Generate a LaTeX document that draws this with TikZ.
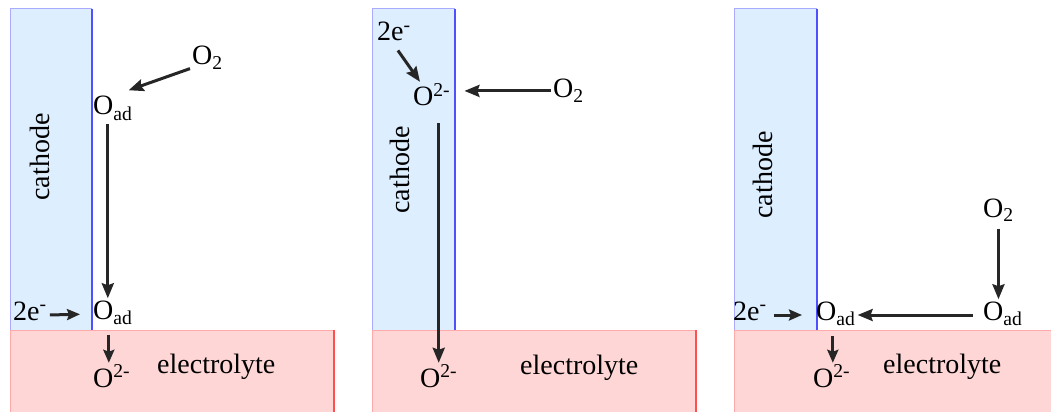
\documentclass[tikz,border=0pt]{standalone}
\usepackage{fontspec}
\setmainfont{Liberation Serif}
\usetikzlibrary{arrows.meta}
\definecolor{cathfill}{RGB}{221,238,255}
\definecolor{cathedge}{RGB}{170,170,255}
\definecolor{cathside}{RGB}{80,80,255}
\definecolor{elfill}{RGB}{255,214,214}
\definecolor{eledge}{RGB}{255,170,170}
\definecolor{elside}{RGB}{255,80,80}
\begin{document}
\begin{tikzpicture}[x=1pt,y=-1pt,
  txt/.style={inner sep=2pt, font=\fontsize{28}{30}\selectfont},
  lbl/.style={txt, anchor=base west},
  vlbl/.style={txt, rotate=90, anchor=center},
  arr/.style={line width=3pt, color=black!85, -{Stealth[length=15pt,width=12pt,inset=2pt]}},
  sarr/.style={line width=3pt, color=black!85, -{Stealth[length=13pt,width=11pt,inset=2pt]}},
  cathbody/.style={fill=cathfill},
  cathrim/.style={draw=cathedge, line width=1pt},
  cathface/.style={draw=cathside, line width=1.6pt},
  elbody/.style={fill=elfill},
  elrim/.style={draw=eledge, line width=1pt},
  elface/.style={draw=elside, line width=2pt}]
\useasboundingbox (0,0) rectangle (1051,414);

% ---------- panel 1 ----------
\fill[cathbody] (10,9) rectangle (92,330);
\draw[cathrim] (10,330) -- (10,9) -- (92,9);
\draw[cathface] (92,9) -- (92,330);
\fill[elbody] (10,330) rectangle (334,412);
\draw[elrim] (10,412) -- (10,330) -- (334,330);
\draw[elface] (334,330) -- (334,412);

\node[vlbl] (p1cat) at (40,157) {cathode};
\node[lbl] (p1o2) at (190,65) {O\textsubscript{2}};
\node[lbl] (p1oad1) at (91,115) {O\textsubscript{ad}};
\node[lbl] (p1oad2) at (91,319) {O\textsubscript{ad}};
\node[lbl] (p1e) at (11,320) {2e\textsuperscript{-}};
\node[lbl] (p1o2m) at (91,387) {O\textsuperscript{2-}};
\node[lbl] (p1el) at (155,373) {electrolyte};

\draw[arr] ([yshift=3pt]p1o2.south west) -- ([xshift=-6pt,yshift=4pt]p1oad1.north east);
\draw[arr, shorten <=2pt] ([xshift=-5pt]p1oad1.south) -- ([xshift=-5pt]p1oad2.north);
\draw[sarr, shorten <=1pt, shorten >=11pt] ([yshift=5pt]p1e.base east) -- ([yshift=5pt]p1oad2.base west);
\draw[sarr, shorten <=9pt] ([xshift=-4pt]p1oad2.south) -- ([xshift=-4pt]p1oad2.south |- p1o2m.north);

% ---------- panel 2 ----------
\fill[cathbody] (372,9) rectangle (455,330);
\draw[cathrim] (372,330) -- (372,9) -- (455,9);
\draw[cathface] (455,9) -- (455,330);
\fill[elbody] (372,330) rectangle (696,412);
\draw[elrim] (372,412) -- (372,330) -- (696,330);
\draw[elface] (696,330) -- (696,412);

\node[vlbl] (p2cat) at (400,170) {cathode};
\node[lbl] (p2e) at (375,41) {2e\textsuperscript{-}};
\node[lbl] (p2o2mt) at (411,106) {O\textsuperscript{2-}};
\node[lbl] (p2o2) at (551,98) {O\textsubscript{2}};
\node[lbl] (p2o2mb) at (418,387) {O\textsuperscript{2-}};
\node[lbl] (p2el) at (518,374) {electrolyte};

\draw[arr, shorten >=12pt] (p2o2.west) -- (p2o2.west -| p2o2mt.east);
\draw[arr] ([xshift=4pt,yshift=-7pt]p2e.south) -- ([xshift=9pt]p2o2mt.north west);
\draw[arr, shorten <=15pt] (p2o2mb.north |- p2o2mt.south) -- (p2o2mb.north);

% ---------- panel 3 ----------
\fill[cathbody] (734,9) rectangle (817,330);
\draw[cathrim] (734,330) -- (734,9) -- (817,9);
\draw[cathface] (817,9) -- (817,330);
\fill[elbody] (734,330) rectangle (1051,412);
\draw[elrim] (734,412) -- (734,330) -- (1051,330);

\node[vlbl] (p3cat) at (763,175) {cathode};
\node[lbl] (p3o2) at (981,217) {O\textsubscript{2}};
\node[lbl] (p3oadr) at (981,320) {O\textsubscript{ad}};
\node[lbl] (p3oadl) at (814,320) {O\textsubscript{ad}};
\node[lbl] (p3e) at (731,320) {2e\textsuperscript{-}};
\node[lbl] (p3o2m) at (811,387) {O\textsuperscript{2-}};
\node[lbl] (p3el) at (881,373) {electrolyte};

\draw[arr, shorten <=5pt] (p3o2.south) -- (p3o2.south |- p3oadr.north);
\draw[arr] ([xshift=-8pt,yshift=5pt]p3oadr.base west) -- ([yshift=5pt]p3oadl.base east);
\draw[sarr, shorten <=5pt, shorten >=12pt] ([yshift=5pt]p3e.base east) -- ([yshift=5pt]p3oadl.base west);
\draw[sarr, shorten <=9pt] ([xshift=-3pt]p3oadl.south) -- ([xshift=-3pt]p3oadl.south |- p3o2m.north);
\end{tikzpicture}
\end{document}
